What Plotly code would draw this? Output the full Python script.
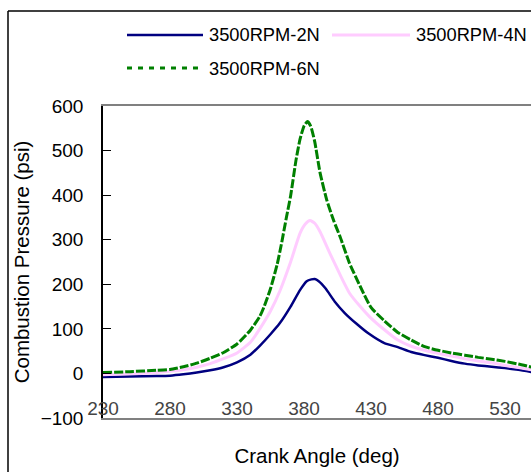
import plotly.graph_objects as go

# ---- data ----
angle_6n = [230, 250, 270, 280, 290, 300, 310, 320, 330, 340, 347, 350, 355, 360, 363, 367, 370, 374, 377, 380, 382.5, 385, 388, 392, 397, 402, 407, 414, 422, 430, 440, 450, 460, 470, 480, 490, 500, 510, 520, 530, 540, 550]
p_6n = [2, 4, 7, 9, 15, 23, 34, 47, 66, 97, 128, 148, 190, 245, 288, 352, 398, 478, 525, 555, 565, 555, 520, 450, 389, 344, 306, 247, 195, 148, 118, 92, 75, 60, 52, 46, 41, 36, 32, 27, 21, 14]

angle_4n = [230, 250, 270, 290, 300, 310, 320, 330, 340, 347, 355, 362, 370, 377, 381, 384.5, 388, 392, 399.4, 407, 414, 422, 429, 440, 450, 460, 470, 480, 490, 500, 510, 520, 530, 540, 550]
p_4n = [-3, -1, 2, 8, 14, 22, 33, 46, 70, 100, 140, 185, 250, 314, 335, 343, 337, 318, 269, 221, 180, 150, 127, 98, 75, 61, 52, 45, 39, 33, 28, 24, 18, 13, 8]

angle_2n = [230, 250, 270, 280, 290, 300, 310, 320, 330, 340, 347, 355, 362, 370, 377, 382, 385.5, 388, 391, 396, 403, 410.6, 419, 428, 440, 450, 460, 470, 480, 490, 500, 510, 520, 530, 540, 550]
p_2n = [-8, -7, -6, -5, -2, 2, 7, 14, 25, 42, 62, 88, 113, 150, 187, 207, 211, 212, 207, 191, 161, 135, 112, 90, 68, 59, 48, 41, 35, 28, 22, 18, 15, 12, 8, 3]

series_names = ["3500RPM-2N", "3500RPM-4N", "3500RPM-6N"]
x_ticks = [230, 280, 330, 380, 430, 480, 530]
y_ticks = [-100, 0, 100, 200, 300, 400, 500, 600]

# ---- layout geometry (pixels) ----
W, H = 531, 472
L, R, T, B = 103, 531, 106, 418
X_RANGE = [230, 230 + (R - L) / 1.34]
Y_RANGE = [-100, 600]

def px(x):
    return (x - L) / (R - L)

def py(y):
    return (B - y) / (B - T)

FONT = "Liberation Sans, Arial, sans-serif"
BLUE, PINK, GREEN = "#000080", "#FFCCFF", "#008000"

fig = go.Figure()
fig.add_trace(go.Scatter(x=angle_2n, y=p_2n, mode="lines", name=series_names[0],
                         line=dict(color=BLUE, width=2.5, shape="spline", smoothing=0.5), showlegend=False))
fig.add_trace(go.Scatter(x=angle_4n, y=p_4n, mode="lines", name=series_names[1],
                         line=dict(color=PINK, width=3, shape="spline", smoothing=0.5), showlegend=False))
fig.add_trace(go.Scatter(x=angle_6n, y=p_6n, mode="lines", name=series_names[2],
                         line=dict(color=GREEN, width=3, dash="9px,2px", shape="spline", smoothing=0.5), showlegend=False))

zero_pos = (0 - Y_RANGE[0]) / (Y_RANGE[1] - Y_RANGE[0])

fig.update_layout(
    width=W, height=H,
    margin=dict(l=L, r=W - R, t=T, b=H - B, pad=0),
    paper_bgcolor="white", plot_bgcolor="white",
    font=dict(family=FONT, color="black", size=19),
    xaxis=dict(
        range=X_RANGE, tickvals=x_ticks, ticktext=[str(v) for v in x_ticks],
        showgrid=False, zeroline=False,
        showline=True, linecolor="#808080", linewidth=2, mirror=True,
        ticks="", ticklabelposition="inside", ticklabeloverflow="allow",
        tickfont=dict(size=19),
        title=dict(text="Crank Angle (deg)", font=dict(size=20.5), standoff=31),
    ),
    xaxis2=dict(
        range=X_RANGE, tickvals=x_ticks, overlaying="x", anchor="free", position=zero_pos,
        showgrid=False, zeroline=False, showticklabels=False,
        showline=True, linecolor="#707070", linewidth=1.5,
        ticks="inside", ticklen=7, tickwidth=1, tickcolor="black",
    ),
    yaxis=dict(
        range=Y_RANGE, tickvals=y_ticks, showgrid=False, zeroline=False,
        showline=True, linecolor="black", linewidth=1.5,
        ticks="inside", ticklen=8, tickwidth=1, tickcolor="black",
        ticklabelstandoff=14, tickfont=dict(size=19),
        title=dict(text="Combustion Pressure (psi)", font=dict(size=20.5), standoff=5),
    ),
    showlegend=False,
)

shapes = []
annotations = []
# outer chart border (cropped at right/bottom)
shapes.append(dict(type="line", xref="paper", yref="paper", x0=px(8), y0=py(11), x1=px(8), y1=py(H + 20),
                   line=dict(color="black", width=1.5)))
shapes.append(dict(type="line", xref="paper", yref="paper", x0=px(8), y0=py(11), x1=px(W + 20), y1=py(11),
                   line=dict(color="black", width=1.5)))

# manual legend
legend_items = [
    (series_names[0], BLUE, "solid", 127, 203, 35, 2.5),
    (series_names[1], PINK, "solid", 332, 410, 35, 3),
    (series_names[2], GREEN, "5px,6px", 127, 203, 68, 3),
]
for name, color, dash, x0, x1, yy, w in legend_items:
    shapes.append(dict(type="line", xref="paper", yref="paper", x0=px(x0), x1=px(x1), y0=py(yy), y1=py(yy),
                       line=dict(color=color, width=w, dash=dash)))
    annotations.append(dict(xref="paper", yref="paper", x=px(x1 + 4), y=py(yy), xanchor="left", yanchor="middle",
                            text=name, showarrow=False, font=dict(size=18.3, color="black", family=FONT)))

fig.update_layout(shapes=shapes, annotations=annotations)

fig.write_html("out.html", config={"displayModeBar": False})

# remove the browser's default body margin so the figure sits at the page origin
with open("out.html", "r", encoding="utf-8") as f:
    html = f.read()
html = html.replace("<body>", '<body style="margin:0;padding:0;overflow:hidden">', 1)
with open("out.html", "w", encoding="utf-8") as f:
    f.write(html)
